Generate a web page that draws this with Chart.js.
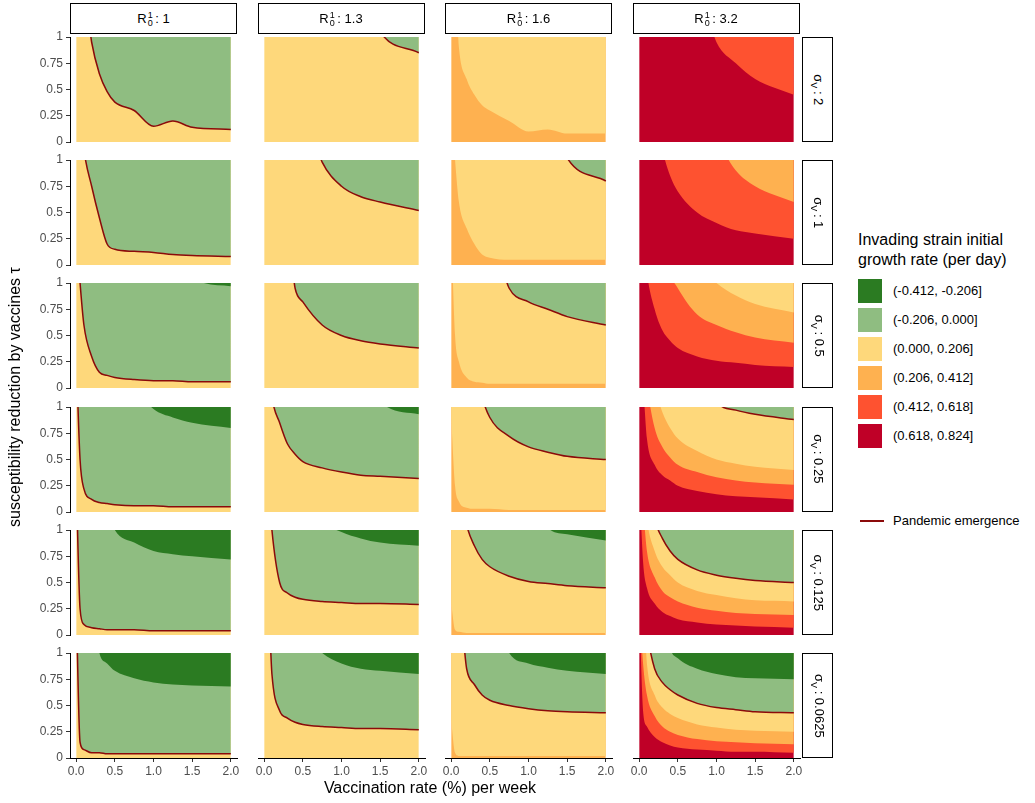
<!DOCTYPE html>
<html>
<head>
<meta charset="UTF-8">
<style>
  body { margin:0; width:1035px; height:803px; position:relative; background:#fff; font-family:'Liberation Sans', Arial, sans-serif; color:#000; overflow:hidden; }
  .pc { position:absolute; }
  .strip { position:absolute; border:1.5px solid #000; box-sizing:border-box; background:#fff; display:flex; align-items:center; justify-content:center; font-size:13px; }
  .vstrip span { display:inline-block; transform:rotate(90deg); white-space:nowrap; }
  .ss { display:inline-flex; flex-direction:column; font-size:9px; line-height:8px; vertical-align:middle; margin-left:1px; }
  .lab { position:absolute; font-size:16px; }
  .leg { position:absolute; left:858px; font-size:13px; }
  .sw { position:absolute; width:24px; height:24px; }
</style>
</head>
<body>
<script src="https://cdn.jsdelivr.net/npm/chart.js@4"></script>
<script>
// x grid of vaccination rate (% per week)
const XS = [0, 0.05, 0.1, 0.2, 0.3, 0.4, 0.5, 0.75, 1.0, 1.25, 1.5, 2.0];
const R0S = ['1', '1.3', '1.6', '3.2'];
const SIGMAS = ['2', '1', '0.5', '0.25', '0.125', '0.0625'];
const CLASS_LABELS = ['(-0.412, -0.206]', '(-0.206, 0.000]', '(0.000, 0.206]', '(0.206, 0.412]', '(0.412, 0.618]', '(0.618, 0.824]'];
const COLORS = ['#2b7b22', '#8fbd81', '#fed87b', '#feb150', '#fe5230', '#bf0027'];
const Y_TICKS = [0, 0.25, 0.5, 0.75, 1];
const X_TICKS = [0, 0.5, 1, 1.5, 2];
const H = 1.5; // above panel top

// each panel: [base class, boundary curves...]; each curve lowers the class by one
const ROW1 = [
  [2, [H,H,H,0.95,0.65,0.48,0.38,0.3,0.15,0.2,0.14,0.12]],
  [2, [H,H,H,H,H,H,H,H,H,H,1.05,0.85]],
  [3, [H,H,0.9,0.6,0.45,0.35,0.3,0.2,0.1,0.12,0.08,0.08]],
  [5, [H,H,H,H,H,H,H,H,0.95,0.75,0.6,0.45]]
];
const ROW2 = [
  [2, [H,H,1.1,0.75,0.45,0.2,0.15,0.13,0.12,0.1,0.09,0.08]],
  [2, [H,H,H,H,H,H,H,0.98,0.75,0.65,0.6,0.52]],
  [3, [H,1.0,0.6,0.35,0.2,0.1,0.07,0.05,0.05,0.05,0.05,0.05], [H,H,H,H,H,H,H,H,H,H,1.02,0.8]],
  [5, [H,H,H,H,1.1,0.85,0.7,0.5,0.4,0.33,0.3,0.25], [H,H,H,H,H,H,H,H,1.2,0.9,0.75,0.6]]
];
const ROW3 = [
  [2, [H,1.0,0.6,0.3,0.15,0.12,0.1,0.08,0.07,0.07,0.06,0.06], [H,H,H,H,H,H,H,H,H,H,1.05,0.97]],
  [2, [H,H,H,H,H,0.95,0.82,0.6,0.5,0.45,0.42,0.38]],
  [3, [H,0.5,0.25,0.1,0.06,0.05,0.04,0.04,0.04,0.04,0.04,0.04], [H,H,H,H,H,H,H,0.95,0.82,0.75,0.68,0.6]],
  [5, [H,H,1.1,0.75,0.55,0.45,0.38,0.3,0.26,0.24,0.22,0.2], [H,H,H,H,H,1.1,0.95,0.7,0.6,0.53,0.48,0.43], [H,H,H,H,H,H,H,1.2,1.0,0.88,0.8,0.72]]
];
const ROW4 = [
  [2, [H,0.5,0.22,0.12,0.09,0.08,0.07,0.06,0.06,0.05,0.05,0.05], [H,H,H,H,H,H,H,1.2,0.98,0.9,0.85,0.8]],
  [2, [H,H,1.1,0.85,0.65,0.55,0.48,0.42,0.38,0.35,0.34,0.32], [H,H,H,H,H,H,H,H,H,H,1.05,0.93]],
  [3, [0.9,0.25,0.1,0.04,0.03,0.03,0.03,0.02,0.02,0.02,0.02,0.02], [H,H,H,H,H,1.1,0.9,0.72,0.62,0.57,0.53,0.5]],
  [5, [H,1.2,0.7,0.45,0.35,0.3,0.25,0.2,0.17,0.15,0.14,0.12], [H,H,1.2,0.8,0.62,0.52,0.45,0.38,0.33,0.3,0.28,0.26], [H,H,H,1.2,0.95,0.8,0.7,0.58,0.5,0.46,0.43,0.4], [H,H,H,H,H,H,H,H,1.05,0.97,0.93,0.88]]
];
const ROW5 = [
  [2, [H,0.25,0.1,0.07,0.06,0.05,0.05,0.05,0.04,0.04,0.04,0.04], [H,H,H,H,H,1.2,1.0,0.88,0.8,0.77,0.75,0.72]],
  [2, [H,H,1.0,0.5,0.4,0.36,0.34,0.32,0.31,0.3,0.3,0.29], [H,H,H,H,H,H,H,1.1,0.98,0.92,0.88,0.85]],
  [3, [0.3,0.05,0.03,0.02,0.02,0.02,0.02,0.02,0.02,0.02,0.02,0.02], [H,H,H,1.05,0.85,0.72,0.65,0.56,0.51,0.49,0.47,0.45], [H,H,H,H,H,H,H,H,H,1.02,0.96,0.9]],
  [5, [H,0.7,0.45,0.3,0.22,0.18,0.15,0.12,0.1,0.09,0.08,0.07], [H,1.2,0.8,0.55,0.42,0.36,0.32,0.26,0.23,0.21,0.2,0.19], [H,H,1.1,0.8,0.65,0.57,0.5,0.42,0.38,0.35,0.33,0.32], [H,H,H,1.1,0.92,0.8,0.72,0.62,0.57,0.54,0.52,0.5]]
];
const ROW6 = [
  [2, [H,0.15,0.08,0.05,0.05,0.04,0.04,0.04,0.04,0.04,0.04,0.04], [H,H,H,H,1.0,0.9,0.83,0.76,0.72,0.7,0.69,0.68]],
  [2, [H,H,0.8,0.45,0.38,0.34,0.32,0.3,0.29,0.28,0.28,0.27], [H,H,H,H,H,H,1.2,1.0,0.9,0.85,0.83,0.8]],
  [3, [0.35,0.05,0.02,0.02,0.02,0.02,0.02,0.02,0.02,0.02,0.02,0.02], [H,H,H,0.85,0.7,0.6,0.55,0.5,0.47,0.45,0.44,0.43], [H,H,H,H,H,H,H,1.0,0.9,0.86,0.83,0.8]],
  [5, [H,0.45,0.3,0.2,0.15,0.12,0.1,0.08,0.07,0.06,0.06,0.05], [H,0.9,0.6,0.4,0.3,0.25,0.22,0.18,0.16,0.15,0.14,0.13], [H,H,0.9,0.6,0.48,0.42,0.38,0.32,0.29,0.27,0.26,0.25], [H,H,1.2,0.85,0.72,0.65,0.6,0.52,0.48,0.46,0.44,0.43], [H,H,H,H,H,1.05,0.95,0.85,0.8,0.77,0.76,0.75]]
];
const ROWS = [ROW1, ROW2, ROW3, ROW4, ROW5, ROW6];

const LEFT0 = 70, TOP0 = 37, PW = 167, PH = 105, PX = 187.5, PY = 123.2;
const YAX = 50, XAX = 30, M = 10;

function el(tag, cls, css, html) {
  const e = document.createElement(tag);
  if (cls) e.className = cls;
  Object.assign(e.style, css);
  if (html != null) e.innerHTML = html;
  document.body.appendChild(e);
  return e;
}

function makePanel(r, c, spec) {
  const showY = c === 0, showX = r === 5;
  const w = PW + (showY ? YAX : 0) + 2 * M, h = PH + (showX ? XAX : 0) + 2 * M;
  const box = el('div', 'pc', { left: (LEFT0 + c * PX - (showY ? YAX : 0) - M) + 'px', top: (TOP0 + r * PY - M) + 'px', width: w + 'px', height: h + 'px' });
  const cv = document.createElement('canvas');
  box.appendChild(cv);
  const base = spec[0];
  const pts = arr => XS.map((x, i) => ({ x, y: arr[i] }));
  const datasets = [{ data: pts(XS.map(() => H)), fill: 'start', backgroundColor: COLORS[base], borderWidth: 0, pointRadius: 0, order: 100 }];
  spec.slice(1).forEach((cur, i) => {
    const cls = base - 1 - i;
    datasets.push({ data: pts(cur), fill: 'end', backgroundColor: COLORS[cls], borderWidth: 0, pointRadius: 0, cubicInterpolationMode: 'monotone', order: 50 - i });
    if (cls === 1) {
      datasets.push({ data: pts(cur), fill: false, borderColor: '#8b0a0a', borderWidth: 1.5, pointRadius: 0, cubicInterpolationMode: 'monotone', order: 0 });
    }
  });
  new Chart(cv, {
    type: 'line',
    data: { datasets },
    options: {
      responsive: true, maintainAspectRatio: false, animation: false,
      layout: { padding: M },
      plugins: { legend: { display: false }, tooltip: { enabled: false } },
      scales: {
        x: {
          type: 'linear', min: -0.08, max: 2.08,
          display: showX,
          afterBuildTicks: s => { s.ticks = X_TICKS.map(v => ({ value: v })); },
          afterFit: s => { s.height = showX ? XAX : 0; s.paddingLeft = 0; s.paddingRight = 0; },
          ticks: { autoSkip: false, callback: v => v.toFixed(1), color: '#4d4d4d', font: { size: 12, family: 'Liberation Sans' }, padding: 2, maxRotation: 0 },
          grid: { display: true, drawOnChartArea: false, tickLength: 4, color: '#333' },
          border: { display: true, color: '#000', width: 1 }
        },
        y: {
          min: 0, max: 1,
          display: showY,
          afterBuildTicks: s => { s.ticks = Y_TICKS.map(v => ({ value: v })); },
          afterFit: s => { s.width = showY ? YAX : 0; s.paddingTop = 0; s.paddingBottom = 0; },
          ticks: { autoSkip: false, callback: v => String(v), color: '#4d4d4d', font: { size: 12, family: 'Liberation Sans' }, padding: 3 },
          grid: { display: true, drawOnChartArea: false, tickLength: 4, color: '#333' },
          border: { display: true, color: '#000', width: 1 }
        }
      }
    }
  });
}

ROWS.forEach((row, r) => row.forEach((spec, c) => makePanel(r, c, spec)));

// strips
R0S.forEach((v, c) => {
  el('div', 'strip', { left: (LEFT0 + c * PX) + 'px', top: '3px', width: PW + 'px', height: '31px' },
    'R<span class="ss"><span>1</span><span>0</span></span>&thinsp;: ' + v);
});
SIGMAS.forEach((v, r) => {
  el('div', 'strip vstrip', { left: '802px', top: (TOP0 + r * PY) + 'px', width: '31px', height: PH + 'px' },
    '<span>σ<sub style="font-size:9px">V</sub>&thinsp;: ' + v + '</span>');
});

// axis titles
el('div', 'lab', { left: '230px', top: '779px', width: '400px', textAlign: 'center' }, 'Vaccination rate (%) per week');
el('div', 'lab', { left: '-185px', top: '388px', width: '400px', textAlign: 'center', transform: 'rotate(-90deg)' }, 'susceptibility reduction by vaccines τ');

// legend
el('div', 'leg', { top: '230px', fontSize: '16px', lineHeight: '20px' }, 'Invading strain initial<br>growth rate (per day)');
CLASS_LABELS.forEach((t, i) => {
  el('div', 'sw', { left: '858px', top: (279 + i * 29) + 'px', background: COLORS[i] });
  el('div', 'leg', { left: '893px', top: (283 + i * 29) + 'px' }, t);
});
el('div', 'sw', { left: '860px', top: '520px', width: '24px', height: '1.5px', background: '#8b0a0a' });
el('div', 'leg', { left: '893px', top: '513px' }, 'Pandemic emergence');
</script>
</body>
</html>
